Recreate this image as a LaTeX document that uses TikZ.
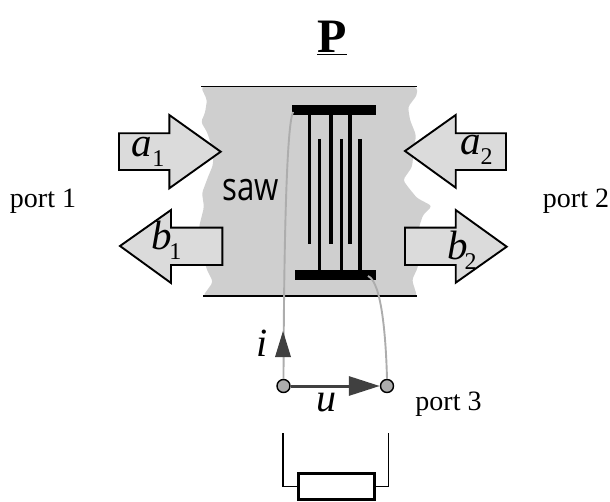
\documentclass[tikz,border=0pt]{standalone}
\usepackage{fontspec}
\usepackage{graphicx}
\setmainfont{Liberation Serif}
\newfontfamily\sawfont{Open Sans}
\usetikzlibrary{arrows.meta}
\definecolor{bodygray}{gray}{0.81}
\definecolor{arrowgray}{gray}{0.86}
\definecolor{wiregray}{gray}{0.68}
\definecolor{darkarrow}{gray}{0.25}
\newcommand{\wavelabel}[3]{\fontsize{41}{41}\selectfont\textit{#1}\kern#3\raisebox{-10pt}{\fontsize{24}{24}\selectfont #2}}
\tikzset{
  wave/.style={draw=black,line width=1.9pt,fill=arrowgray,line join=miter},
  bar/.style={fill=black,draw=none},
  finger/.style={draw=black,line width=3.2pt},
  wire/.style={draw=wiregray,line width=1.9pt},
  lead/.style={draw=black,line width=1.5pt},
  terminal/.style={circle,draw=black,fill=wiregray,line width=1.4pt,minimum size=13pt,inner sep=0pt},
  portlabel/.style={font=\fontsize{28}{28}\selectfont,inner sep=0pt},
  wavetext/.style={inner sep=0pt,anchor=base west},
  dark/.style={draw=darkarrow,line width=3pt,-{Triangle[length=31pt,width=19pt,fill=darkarrow]}},
}
\begin{document}
\begin{tikzpicture}[x=1pt,y=-1pt]
\useasboundingbox (0,0) rectangle (610,502);
% substrate
\fill[bodygray,rounded corners=3pt] (201,87) -- (417,87) -- (417,95) -- (408,107) -- (410,120) -- (416,135) -- (414,150) -- (412,167) -- (403,180) -- (408,187) -- (417,198) -- (432,206) -- (423,215) -- (419,227) -- (418,267) -- (412,280) -- (417,296) -- (203,296) -- (213,282) -- (207,270) -- (203,257) -- (199,227) -- (204,207) -- (202,193) -- (208,177) -- (213,165) -- (213,150) -- (207,132) -- (201,122) -- (205,113) -- (207,100) -- cycle;
\draw[line width=1.3pt] (201,86.5) -- (417,86.5);
\draw[line width=1.3pt] (203,296) -- (417,296);
% wave arrows
\draw[wave] (119,133.3) -- (169.3,133.3) -- (169.3,115) -- (220.7,151.7) -- (169.3,188.3) -- (169.3,170) -- (119,170) -- cycle;
\draw[wave] (222.3,227.7) -- (171,227.7) -- (171,210) -- (120,246) -- (171,283) -- (171,265) -- (222.3,265) -- cycle;
\draw[wave] (506,133.3) -- (455.7,133.3) -- (455.7,115) -- (405,151) -- (455.7,187.7) -- (455.7,170) -- (506,170) -- cycle;
\draw[wave] (405,227.7) -- (455.7,227.7) -- (455.7,210) -- (506.7,246.7) -- (455.7,282.7) -- (455.7,265) -- (405,265) -- cycle;
% electrodes
\fill[bar] (292,105) rectangle (376,115.5);
\fill[bar] (295,270) rectangle (376,280);
\foreach \x in {309.3,331,350} \draw[finger] (\x,110) -- (\x,244);
\foreach \x in {319.7,341.7,360} \draw[finger] (\x,139) -- (\x,275);
% terminals and wires
\node[terminal] (t1) at (283.5,386) {};
\node[terminal] (t2) at (387,386) {};
\coordinate (padL) at (293,112);
\coordinate (padR) at (368,276);
\draw[wire] (padL) .. controls (287,125) and (284,230) .. (t1.north);
\draw[wire] (padR) .. controls (382,282) and (386,340) .. (t2.north);
\coordinate (itip) at (283,331);
\draw[dark] (t2.west -| t1.east) -- (t2.west);
\fill[darkarrow] (itip) -- (291,357) -- (275,357) -- cycle;
% load
\node[draw=black,line width=2.6pt,fill=white,minimum width=76pt,minimum height=26pt,inner sep=0pt] (load) at (336.2,486.5) {};
\coordinate (leadL) at (283,433);
\coordinate (leadR) at (388.7,433);
\draw[lead] (leadL) |- (load.west);
\draw[lead] (leadR) |- (load.east);
% labels
\node[inner sep=0pt] (title) at (332,38) {\fontsize{48}{48}\selectfont\textbf{\underline{P}}};
\node[portlabel,anchor=base] (p1) at (43,208) {port 1};
\node[portlabel,anchor=base] (p2) at (576,208) {port 2};
\node[portlabel,anchor=base] (p3) at (448.5,410) {port 3};
\node[inner sep=0pt,anchor=base] (saw) at (251,201) {\fontsize{39}{39}\selectfont\sawfont\scalebox{0.8}[1]{saw}};
\node[wavetext] (a1) at (131.7,156.7) {\wavelabel{a}{1}{0pt}};
\node[wavetext] (b1) at (151.7,250) {\wavelabel{b}{1}{-3pt}};
\node[wavetext] (a2) at (460,155) {\wavelabel{a}{2}{0pt}};
\node[wavetext] (b2) at (447,260) {\wavelabel{b}{2}{-3pt}};
\node[inner sep=0pt,anchor=base] (ilab) at (262.5,356) {\fontsize{40}{40}\selectfont\textit{i}};
\node[inner sep=0pt,anchor=base] (ulab) at (326,411.5) {\fontsize{40}{40}\selectfont\textit{u}};
\end{tikzpicture}
\end{document}
